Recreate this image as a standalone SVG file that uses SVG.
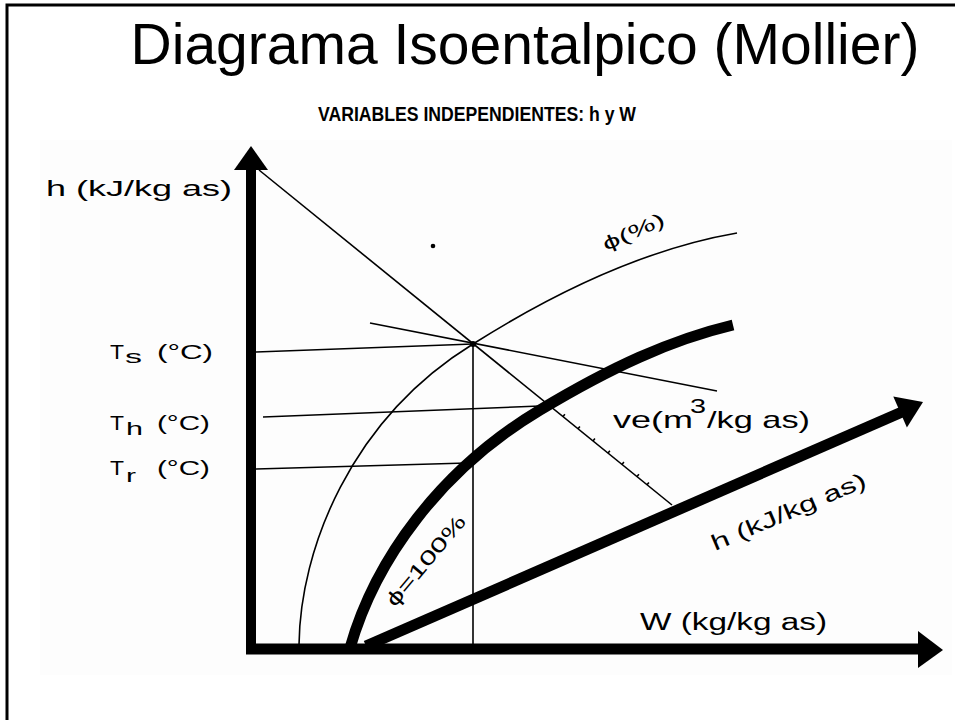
<svg xmlns="http://www.w3.org/2000/svg" width="955" height="720" viewBox="0 0 955 720">
<style>
.t{font-family:"Liberation Sans",Arial,sans-serif;fill:#000}
.thin{fill:none;stroke:#000;stroke-width:1.6}
.thick{fill:none;stroke:#000;stroke-width:11}
</style>
<rect x="0" y="0" width="955" height="720" fill="#fff"/>
<rect x="40" y="140" width="912" height="535" fill="#fdfdfd"/>
<rect x="7" y="5" width="1000" height="800" fill="none" stroke="#000" stroke-width="3"/>
<g id="title">
<text class="t" x="525" y="64" font-size="57" text-anchor="middle">Diagrama Isoentalpico (Mollier)</text>
<text class="t" x="318" y="121" font-size="20" font-weight="bold" textLength="318" lengthAdjust="spacingAndGlyphs">VARIABLES INDEPENDIENTES: h y W</text>
</g>
<g id="connectors">
<line class="thin" x1="259" y1="170" x2="672" y2="505"/>
<line class="thin" x1="370" y1="323" x2="717" y2="391"/>
<line class="thin" x1="256" y1="352" x2="473" y2="344"/>
<line class="thin" x1="263" y1="417" x2="540" y2="406"/>
<line class="thin" x1="256" y1="469" x2="467" y2="463"/>
<line class="thin" x1="473" y1="344" x2="473" y2="648"/>
<path class="thin" d="M299,645 C300,550 350,420 473,344 C560,289 650,248 737,233"/>
<path class="thin" stroke-width="1.5" d="M548,404.4 l1.9,-2.3 M563,416.5 l1.9,-2.3 M578,428.7 l1.9,-2.3 M593,440.9 l1.9,-2.3 M608,453 l1.9,-2.3 M622,464.4 l1.9,-2.3 M637,476.6 l1.9,-2.3 M647,484.7 l1.9,-2.3"/>
<path class="thick" d="M350,648 C375,560 440,470 540,410 C610,368 670,340 733,325"/>
<line class="thick" stroke-width="10" x1="366" y1="646" x2="902" y2="412"/>
<polygon points="923,402 906.9,427.6 893.3,396.4" fill="#000"/>
<circle cx="473" cy="344" r="3" fill="#000"/>
<circle cx="433" cy="246" r="2.3" fill="#000"/>
</g>
<g id="axis-h">
<rect x="246" y="168" width="10" height="486" fill="#000"/>
<polygon points="251,146 268,170 234,170" fill="#000"/>
<text class="t" x="46" y="196" font-size="22" textLength="186" lengthAdjust="spacingAndGlyphs">h (kJ/kg as)</text>
</g>
<g id="axis-w">
<rect x="246" y="643.5" width="674" height="11" fill="#000"/>
<polygon points="943,650 918,631 918,668" fill="#000"/>
<text class="t" x="640" y="630" font-size="23" textLength="187" lengthAdjust="spacingAndGlyphs">W (kg/kg as)</text>
</g>
<g id="label-ts">
<text class="t" x="110" y="359" font-size="20" textLength="14" lengthAdjust="spacingAndGlyphs">T</text>
<text class="t" x="125" y="363" font-size="19" textLength="17" lengthAdjust="spacingAndGlyphs">s</text>
<text class="t" x="157" y="359" font-size="20" textLength="56" lengthAdjust="spacingAndGlyphs">(°C)</text>
</g>
<g id="label-th">
<text class="t" x="110" y="430" font-size="20" textLength="14" lengthAdjust="spacingAndGlyphs">T</text>
<text class="t" x="126" y="435" font-size="19" textLength="17" lengthAdjust="spacingAndGlyphs">h</text>
<text class="t" x="157" y="430" font-size="20" textLength="53" lengthAdjust="spacingAndGlyphs">(°C)</text>
</g>
<g id="label-tr">
<text class="t" x="110" y="475" font-size="20" textLength="14" lengthAdjust="spacingAndGlyphs">T</text>
<text class="t" x="126" y="482" font-size="19" textLength="10" lengthAdjust="spacingAndGlyphs">r</text>
<text class="t" x="157" y="475" font-size="20" textLength="53" lengthAdjust="spacingAndGlyphs">(°C)</text>
</g>
<g id="label-phi">
<text class="t" transform="translate(606,251) rotate(-24)" font-size="19" textLength="66" lengthAdjust="spacingAndGlyphs">ϕ(%)</text>
</g>
<g id="label-phi100">
<text class="t" transform="translate(395,608) rotate(-50)" font-size="20" textLength="112" lengthAdjust="spacingAndGlyphs">ϕ=100%</text>
</g>
<g id="label-ve">
<text class="t" x="613" y="428" font-size="24" textLength="80" lengthAdjust="spacingAndGlyphs">ve(m</text>
<text class="t" x="690" y="413" font-size="20" textLength="16" lengthAdjust="spacingAndGlyphs">3</text>
<text class="t" x="707" y="428" font-size="24" textLength="103" lengthAdjust="spacingAndGlyphs">/kg as)</text>
</g>
<g id="label-h-diag">
<text class="t" transform="translate(715,551) rotate(-23)" font-size="22" textLength="166" lengthAdjust="spacingAndGlyphs">h (kJ/kg as)</text>
</g>
</svg>
